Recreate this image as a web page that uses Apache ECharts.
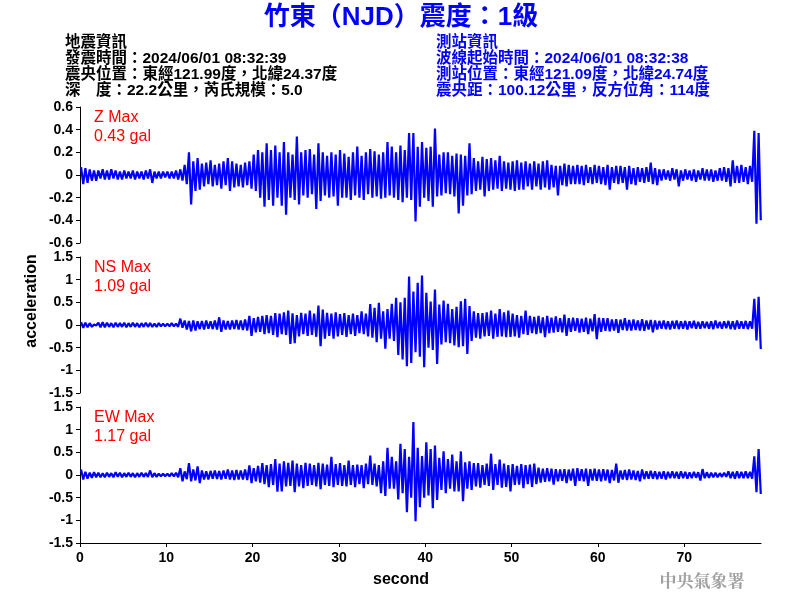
<!DOCTYPE html>
<html>
<head>
<meta charset="utf-8">
<script src="https://cdn.jsdelivr.net/npm/echarts@6/dist/echarts.min.js"></script>
<style>html,body{margin:0;padding:0;background:#fff}#c{width:800px;height:600px}</style>
</head>
<body>
<div id="c"></div>
<script>
// Bin width (seconds): each bin holds the peak (max) and trough (min)
const binWidth = 0.5;
const timeMax = 78.9;

const zMax = [
 .07,.06,.05,.04,.04,.05,.04,.05,.04,.03,
 .04,.03,.04,.03,.03,.04,.05,.03,.03,.03,
 .03,.03,.04,.05,.09,.2,.12,.15,.1,.11,
 .13,.09,.1,.12,.15,.12,.1,.09,.11,.12,
 .18,.22,.2,.28,.22,.26,.2,.29,.2,.18,
 .34,.2,.22,.23,.18,.28,.2,.17,.2,.18,
 .22,.19,.16,.2,.25,.17,.2,.23,.21,.18,
 .2,.29,.25,.2,.26,.22,.37,.37,.25,.29,
 .24,.25,.41,.18,.2,.2,.17,.19,.18,.17,
 .28,.15,.12,.16,.14,.15,.13,.17,.12,.11,
 .12,.13,.11,.12,.1,.12,.1,.12,.13,.09,
 .08,.08,.1,.09,.08,.09,.08,.09,.07,.09,
 .08,.07,.09,.07,.08,.08,.07,.08,.06,.07,
 .06,.07,.11,.06,.05,.05,.04,.06,.05,.04,
 .05,.04,.05,.04,.06,.05,.05,.04,.06,.07,
 .06,.13,.08,.09,.07,.08,.39,.37
];
const zMin = [
 -.08,-.07,-.05,-.05,-.03,-.04,-.04,-.03,-.04,-.04,
 -.03,-.03,-.04,-.03,-.04,-.03,-.07,-.03,-.03,-.02,
 -.03,-.03,-.04,-.05,-.08,-.26,-.14,-.13,-.1,-.08,
 -.1,-.09,-.12,-.09,-.14,-.11,-.1,-.11,-.09,-.12,
 -.14,-.2,-.28,-.22,-.27,-.2,-.27,-.35,-.2,-.22,
 -.26,-.18,-.2,-.17,-.3,-.23,-.18,-.2,-.19,-.27,
 -.2,-.2,-.22,-.18,-.2,-.22,-.17,-.2,-.19,-.21,
 -.2,-.18,-.2,-.22,-.24,-.2,-.22,-.41,-.28,-.2,
 -.23,-.28,-.19,-.18,-.16,-.17,-.19,-.34,-.27,-.18,
 -.17,-.14,-.13,-.19,-.14,-.13,-.12,-.14,-.12,-.13,
 -.14,-.13,-.13,-.1,-.13,-.1,-.13,-.11,-.13,-.11,
 -.18,-.09,-.1,-.08,-.08,-.08,-.09,-.07,-.08,-.07,
 -.08,-.09,-.13,-.07,-.08,-.07,-.13,-.08,-.09,-.06,
 -.07,-.06,-.08,-.09,-.05,-.04,-.05,-.04,-.1,-.05,
 -.04,-.05,-.06,-.04,-.05,-.05,-.06,-.05,-.05,-.06,
 -.1,-.07,-.07,-.06,-.08,-.06,-.43,-.4
];
const nsMax = [
 .06,.05,.04,.01,.05,.06,.05,.04,.05,.04,
 .05,.04,.05,.04,.04,.05,.04,.03,.04,.03,
 .03,.04,.03,.14,.1,.09,.1,.08,.09,.1,
 .08,.1,.17,.1,.09,.1,.11,.1,.12,.2,
 .15,.18,.2,.22,.2,.26,.25,.28,.32,.26,
 .22,.27,.25,.32,.25,.43,.34,.27,.25,.28,
 .24,.26,.22,.25,.22,.3,.25,.46,.38,.49,
 .3,.35,.47,.6,.5,.6,1.07,.74,.93,1.09,
 .71,.52,.78,.45,.54,.47,.35,.4,.52,.58,
 .42,.3,.26,.26,.28,.32,.25,.35,.28,.32,
 .25,.22,.2,.32,.2,.18,.2,.17,.2,.16,
 .19,.15,.23,.15,.16,.15,.14,.16,.14,.24,
 .16,.15,.15,.12,.13,.12,.15,.11,.12,.1,
 .13,.1,.11,.1,.09,.1,.08,.09,.1,.08,
 .09,.08,.09,.07,.08,.07,.08,.1,.07,.08,
 .09,.08,.1,.08,.09,.08,.58,.62
];
const nsMin = [
 -.06,-.05,-.04,-.01,-.05,-.05,-.04,-.05,-.04,-.04,
 -.05,-.04,-.04,-.05,-.04,-.04,-.04,-.04,-.03,-.03,
 -.03,-.03,-.04,-.06,-.1,-.14,-.12,-.09,-.1,-.08,
 -.09,-.1,-.15,-.1,-.1,-.09,-.1,-.11,-.12,-.24,
 -.16,-.15,-.2,-.18,-.22,-.27,-.2,-.22,-.42,-.4,
 -.25,-.2,-.24,-.22,-.26,-.47,-.3,-.24,-.3,-.25,
 -.22,-.26,-.2,-.24,-.18,-.2,-.25,-.28,-.38,-.3,
 -.52,-.3,-.35,-.66,-.76,-.91,-.84,-.6,-.7,-.93,
 -.5,-.55,-.86,-.43,-.38,-.4,-.45,-.49,-.47,-.64,
 -.35,-.28,-.3,-.25,-.24,-.3,-.26,-.25,-.27,-.26,
 -.25,-.28,-.2,-.22,-.18,-.2,-.18,-.27,-.18,-.17,
 -.15,-.16,-.24,-.15,-.13,-.17,-.15,-.2,-.14,-.31,
 -.15,-.13,-.14,-.12,-.17,-.11,-.12,-.12,-.11,-.12,
 -.13,-.1,-.16,-.1,-.08,-.09,-.1,-.08,-.09,-.08,
 -.1,-.07,-.08,-.08,-.07,-.08,-.09,-.07,-.08,-.07,
 -.09,-.1,-.08,-.08,-.09,-.08,-.34,-.53
];
const ewMax = [
 .12,.07,.05,.06,.05,.04,.05,.04,.06,.05,
 .04,.05,.04,.04,.05,.04,.1,.04,.03,.03,
 .03,.04,.05,.15,.08,.26,.12,.19,.1,.08,
 .09,.1,.09,.1,.12,.1,.11,.1,.12,.21,
 .15,.2,.26,.22,.24,.35,.25,.3,.27,.32,
 .25,.22,.27,.25,.22,.27,.25,.23,.4,.24,
 .26,.22,.32,.22,.23,.22,.25,.43,.25,.22,
 .3,.6,.4,.3,.69,.57,.4,1.17,.6,.42,
 .72,.57,.65,.38,.52,.35,.45,.3,.52,.28,
 .3,.26,.26,.22,.25,.47,.24,.34,.25,.22,
 .24,.2,.24,.22,.23,.25,.16,.14,.15,.14,
 .13,.12,.13,.12,.14,.15,.13,.14,.13,.14,
 .12,.13,.12,.11,.25,.1,.11,.12,.1,.09,
 .12,.08,.09,.08,.07,.08,.07,.08,.07,.08,
 .07,.06,.07,.06,.13,.06,.05,.05,.04,.05,
 .08,.07,.08,.07,.08,.07,.41,.57
];
const ewMin = [
 -.1,-.08,-.06,-.05,-.05,-.05,-.04,-.05,-.04,-.05,
 -.04,-.04,-.05,-.04,-.04,-.04,-.05,-.04,-.03,-.03,
 -.03,-.03,-.05,-.14,-.09,-.14,-.12,-.18,-.1,-.1,
 -.08,-.09,-.1,-.08,-.1,-.11,-.1,-.1,-.11,-.18,
 -.14,-.17,-.2,-.27,-.22,-.37,-.36,-.25,-.24,-.38,
 -.25,-.29,-.24,-.22,-.25,-.31,-.22,-.24,-.27,-.22,
 -.24,-.25,-.22,-.27,-.2,-.29,-.2,-.22,-.25,-.4,
 -.46,-.3,-.3,-.54,-.4,-.82,-.5,-1.02,-.71,-.5,
 -.45,-.73,-.55,-.33,-.4,-.3,-.36,-.36,-.58,-.3,
 -.33,-.25,-.28,-.22,-.24,-.33,-.22,-.28,-.26,-.36,
 -.22,-.21,-.29,-.2,-.26,-.2,-.17,-.15,-.14,-.21,
 -.14,-.13,-.18,-.12,-.24,-.13,-.14,-.24,-.12,-.13,
 -.14,-.12,-.18,-.12,-.17,-.1,-.11,-.1,-.11,-.14,
 -.09,-.08,-.08,-.09,-.08,-.1,-.07,-.07,-.08,-.07,
 -.08,-.07,-.06,-.12,-.07,-.06,-.05,-.05,-.04,-.04,
 -.07,-.08,-.07,-.07,-.07,-.08,-.38,-.42
];

const panelNames = ['Z', 'NS', 'EW'];
const panelPeaks = ['0.43 gal', '1.09 gal', '1.17 gal'];
const yRanges = [[-0.6, 0.6, 0.2], [-1.5, 1.5, 0.5], [-1.5, 1.5, 0.5]];
const xTickInterval = 10;

const titleText = '竹東（NJD）震度：1級';
const quakeInfo = ['地震資訊', '發震時間：2024/06/01 08:32:39', '震央位置：東經121.99度，北緯24.37度', '深　度：22.2公里，芮氏規模：5.0'];
const stationInfo = ['測站資訊', '波線起始時間：2024/06/01 08:32:38', '測站位置：東經121.09度，北緯24.74度', '震央距：100.12公里，反方位角：114度'];
const yAxisTitle = 'acceleration';
const xAxisTitle = 'second';
const agencyText = '中央氣象署';

function buildTrace(maxArr, minArr) {
  const out = [];
  for (let k = 0; k < maxArr.length; k++) {
    out.push([k * binWidth + binWidth * 0.25, maxArr[k]]);
    out.push([k * binWidth + binWidth * 0.75, minArr[k]]);
  }
  return out;
}
const traces = [buildTrace(zMax, zMin), buildTrace(nsMax, nsMin), buildTrace(ewMax, ewMin)];

const FONT_LATIN = "'Liberation Sans', Arial, 'Noto Sans CJK TC'";
const gridTops = [107, 257, 407];
const gridH = 136;

const grids = [], xAxes = [], yAxes = [], series = [];
for (let i = 0; i < 3; i++) {
  grids.push({ left: 80, right: 39, top: gridTops[i], height: gridH, containLabel: false });
  const isBottom = i === 2;
  xAxes.push({
    type: 'value', gridIndex: i, min: 0, max: timeMax, interval: xTickInterval,
    show: isBottom,
    axisLine: { show: true, onZero: false, lineStyle: { color: '#000', width: 1 } },
    axisTick: { show: true, length: 4, lineStyle: { color: '#000' } },
    axisLabel: { show: true, color: '#000', fontWeight: 'bold', fontSize: 14, fontFamily: FONT_LATIN, margin: 8, showMaxLabel: false },
    splitLine: { show: false }
  });
  yAxes.push({
    type: 'value', gridIndex: i, min: yRanges[i][0], max: yRanges[i][1], interval: yRanges[i][2],
    axisLine: { show: true, onZero: false, lineStyle: { color: '#000', width: 1 } },
    axisTick: { show: true, length: 4, lineStyle: { color: '#000' } },
    axisLabel: { color: '#000', fontWeight: 'bold', fontSize: 14, fontFamily: FONT_LATIN, margin: 7,
      formatter: v => String(parseFloat(v.toFixed(2))) },
    splitLine: { show: false }
  });
  series.push({
    type: 'line', xAxisIndex: i, yAxisIndex: i, data: traces[i],
    showSymbol: false, symbol: 'none', sampling: null,
    lineStyle: { color: '#0000ff', width: 2.2, join: 'bevel' }, silent: true, animation: false
  });
}

const graphics = [];
graphics.push({ type: 'text', x: 401, y: 18, style: { text: titleText, font: "bold 26px 'Liberation Sans', 'Noto Sans CJK TC'", fill: '#0000ff', align: 'center', verticalAlign: 'middle' } });
const lineYs = [43, 59, 75, 91];
const infoFont = "bold 15.5px " + FONT_LATIN;
quakeInfo.forEach((t, j) => graphics.push({ type: 'text', x: 65, y: lineYs[j], style: { text: t, font: infoFont, fill: '#000', align: 'left', verticalAlign: 'middle' } }));
stationInfo.forEach((t, j) => graphics.push({ type: 'text', x: 436, y: lineYs[j], style: { text: t, font: infoFont, fill: '#0000ff', align: 'left', verticalAlign: 'middle' } }));
for (let i = 0; i < 3; i++) {
  graphics.push({ type: 'text', x: 94, y: gridTops[i] + 11, style: { text: panelNames[i] + ' Max', font: "16px " + FONT_LATIN, fill: '#ff0000', align: 'left', verticalAlign: 'middle' } });
  graphics.push({ type: 'text', x: 94, y: gridTops[i] + 30, style: { text: panelPeaks[i], font: "16px " + FONT_LATIN, fill: '#ff0000', align: 'left', verticalAlign: 'middle' } });
}
graphics.push({ type: 'text', x: 32, y: 301, rotation: Math.PI / 2, style: { text: yAxisTitle, font: "bold 16px " + FONT_LATIN, fill: '#000', align: 'center', verticalAlign: 'middle' } });
graphics.push({ type: 'text', x: 401, y: 580, style: { text: xAxisTitle, font: "bold 16px " + FONT_LATIN, fill: '#000', align: 'center', verticalAlign: 'middle' } });
graphics.push({ type: 'text', x: 702, y: 581, style: { text: agencyText, font: "bold 17px 'Noto Serif CJK TC', 'Noto Sans CJK TC'", fill: '#a0a0a0', align: 'center', verticalAlign: 'middle' } });

const chart = echarts.init(document.getElementById('c'), null, { renderer: 'canvas' });
chart.setOption({
  animation: false,
  backgroundColor: '#fff',
  grid: grids, xAxis: xAxes, yAxis: yAxes, series: series,
  graphic: graphics
});
</script>
</body>
</html>
